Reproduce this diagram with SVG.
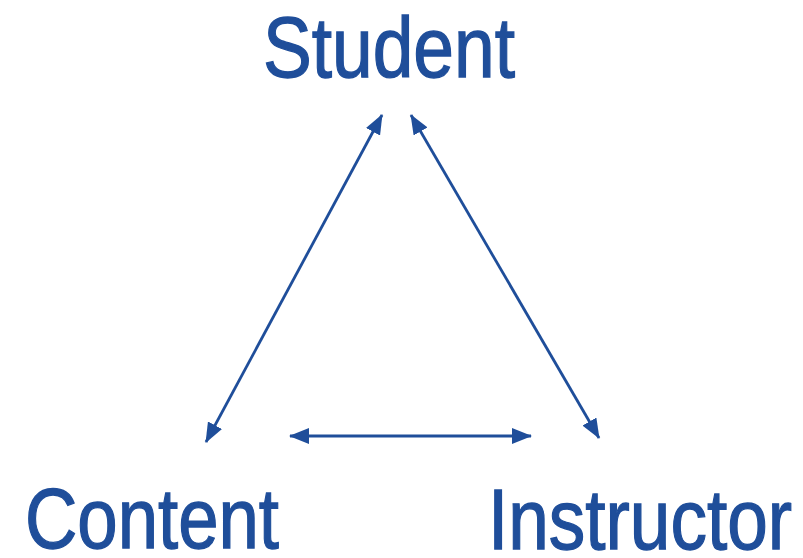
<svg xmlns="http://www.w3.org/2000/svg" width="803" height="558" viewBox="0 0 803 558">
<style>
.lbl{font-family:"Liberation Sans",Arial,sans-serif;font-size:85px;fill:#1F4E9A;stroke:#1F4E9A;stroke-width:1.3}
.con{stroke:#1F4E9A;stroke-width:2.8;fill:none;marker-start:url(#ah);marker-end:url(#ah)}
</style>
<defs>
<marker id="ah" viewBox="0 0 20 16" refX="19" refY="8" markerWidth="20" markerHeight="16" markerUnits="userSpaceOnUse" orient="auto-start-reverse">
<path d="M0,0 L20,8 L0,16 Z" fill="#1F4E9A"/>
</marker>
</defs>
<rect width="803" height="558" fill="#fff"/>
<g id="student"><text class="lbl" x="263" y="77" textLength="252" lengthAdjust="spacingAndGlyphs">Student</text></g>
<g id="content"><text class="lbl" x="25" y="548" textLength="254" lengthAdjust="spacingAndGlyphs">Content</text></g>
<g id="instructor"><text class="lbl" x="488" y="549" textLength="304" lengthAdjust="spacingAndGlyphs">Instructor</text></g>
<g id="connectors">
<line class="con" x1="382" y1="115" x2="206" y2="442"/>
<line class="con" x1="411" y1="115" x2="599" y2="438"/>
<line class="con" x1="290" y1="436" x2="531" y2="436"/>
</g>
</svg>
